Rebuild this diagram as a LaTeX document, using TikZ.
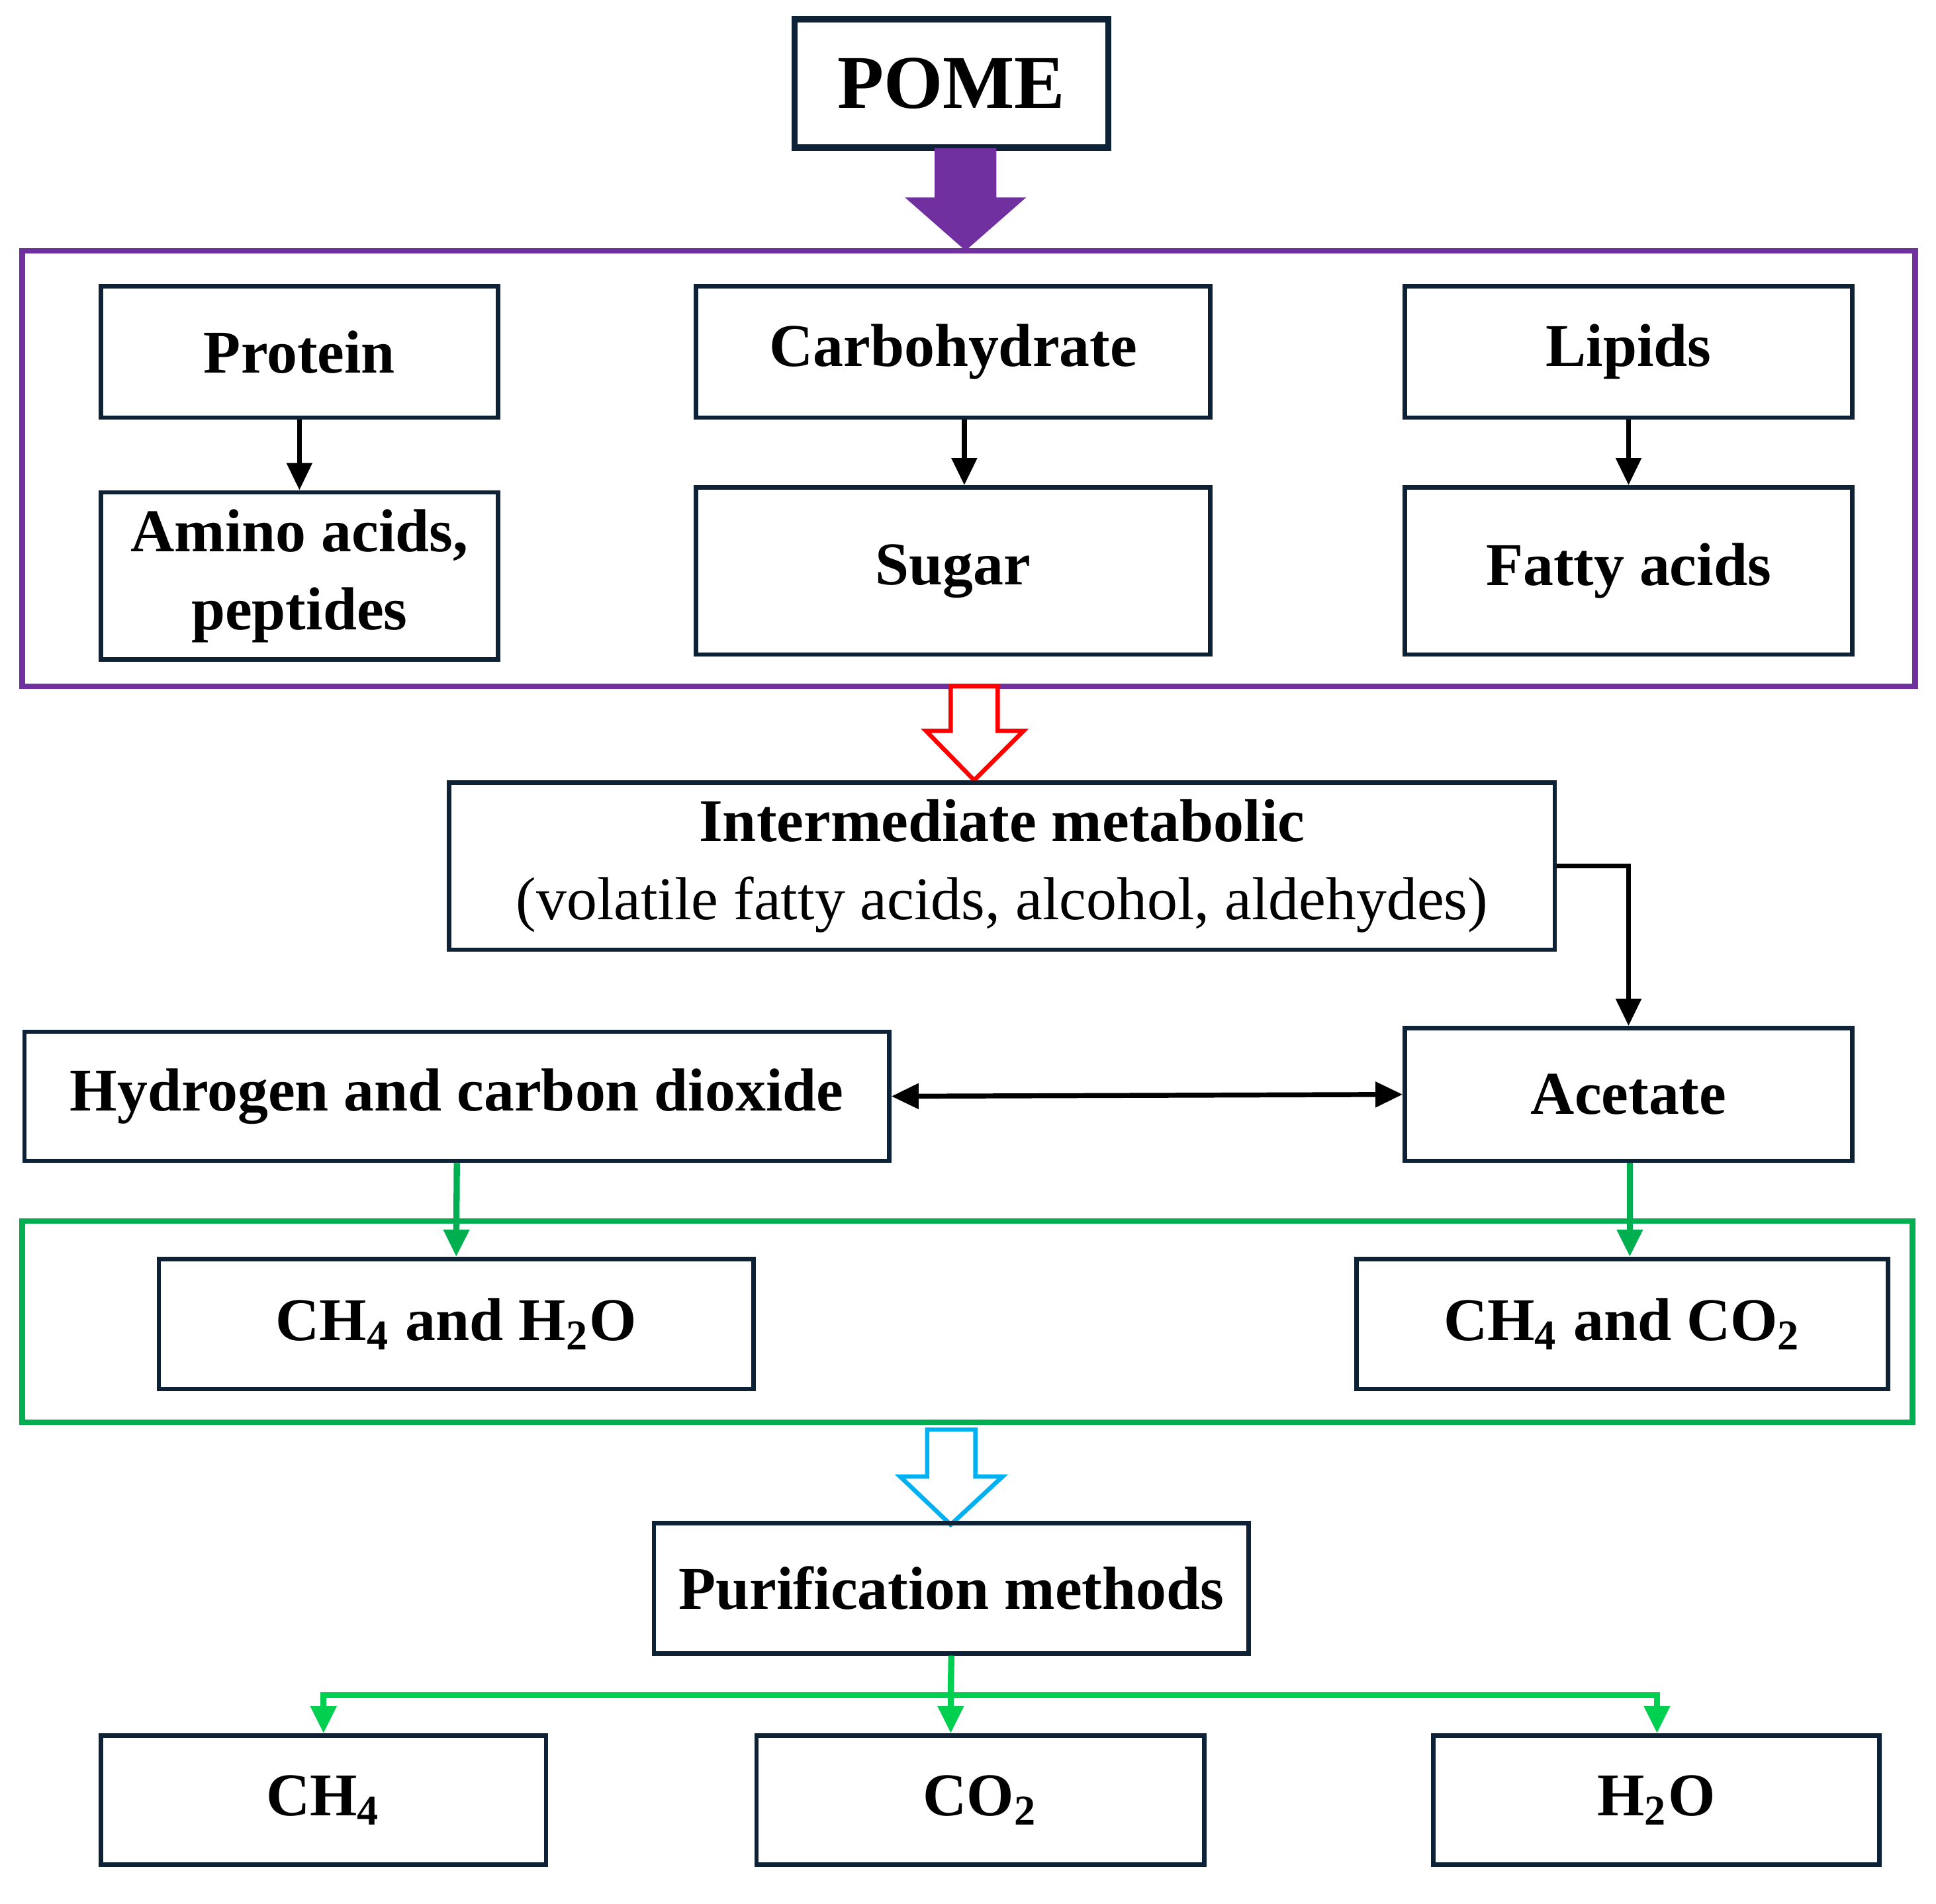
\documentclass[tikz,border=0pt]{standalone}
\usepackage{fontspec}
\setmainfont{Liberation Serif}
\usetikzlibrary{arrows.meta}
\definecolor{bx}{HTML}{0D2236}
\definecolor{pur}{HTML}{7030A0}
\definecolor{grn}{HTML}{00B050}
\definecolor{lgrn}{HTML}{00D050}
\definecolor{blu}{HTML}{00B0F0}
\begin{document}
\begin{tikzpicture}[x=0.1mm,y=-0.1mm,
 box/.style={draw=bx,line width=0.35mm,inner sep=0pt,font=\fontsize{14}{18}\selectfont\bfseries,align=center},
 arr/.style={line width=0.4mm,-{Triangle[length=2.2mm,width=2mm]}},
 frame/.style={line width=0.45mm}]
\useasboundingbox (0,0) rectangle (1568,1542);
\newcommand{\bx}[6]{\node[box,minimum width=#4*0.1mm-0.35mm,minimum height=#5*0.1mm-0.35mm] (#1) at (#2,#3) {#6};}
% POME
\node[box,line width=0.5mm,minimum width=25.4mm,minimum height=10.4mm] (pome) at (770.5,67.5) {\fontsize{17.5}{20}\selectfont POME};
\fill[pur] (757,120) -- (807,120) -- (807,160) -- (831,160) -- (782,203) -- (733,160) -- (757,160) -- cycle;
% purple frame
\draw[pur,frame] (18,203) rectangle (1551,556);
\bx{prot}{242.5}{285}{325}{110}{Protein}
\bx{amino}{242.5}{466.5}{325}{139}{Amino acids,\\ peptides}
\bx{carb}{772}{285}{420}{110}{Carbohydrate}
\bx{sugar}{772}{462.5}{420}{139}{Sugar}
\bx{lip}{1319}{285}{366}{110}{Lipids}
\bx{fat}{1319}{462.5}{366}{139}{Fatty acids}
\draw[arr] (prot.south) -- (amino.north);
\draw[arr] ([xshift=0.9mm]carb.south) -- ([xshift=0.9mm]sugar.north);
\draw[arr] (lip.south) -- (fat.north);
% red hollow arrow
\draw[red,line width=0.35mm,fill=white] (770,556) -- (808,556) -- (808,592) -- (829,592) -- (789,632) -- (750,592) -- (770,592) -- cycle;
\bx{inter}{811.5}{701.5}{899}{139}{Intermediate metabolic\\ \mdseries (volatile fatty acids, alcohol, aldehydes)}
\bx{hyd}{370}{888}{704}{108}{Hydrogen and carbon dioxide}
\bx{acet}{1319}{886.5}{366}{111}{Acetate}
\draw[arr] (inter.east) -| (acet.north);
\draw[line width=0.4mm,{Triangle[length=2.2mm,width=2mm]}-{Triangle[length=2.2mm,width=2mm]}] (hyd.east) -- (acet.west);
% green frame
\draw[grn,frame] (18,989) rectangle (1549,1152);
\bx{ch4h2o}{369.5}{1072.5}{485}{109}{CH\textsubscript{4} and H\textsubscript{2}O}
\bx{ch4co2}{1314}{1072.5}{434}{109}{CH\textsubscript{4} and CO\textsubscript{2}}
\draw[arr,grn,line width=0.5mm] (hyd.south) -- (ch4h2o.north);
\draw[arr,grn,line width=0.5mm] (1320,942) -- (1320,1018);
% blue hollow arrow
\draw[blu,line width=0.35mm,fill=white] (751,1158) -- (790,1158) -- (790,1196) -- (812,1196) -- (770,1235) -- (729,1196) -- (751,1196) -- cycle;
\bx{pur}{770.5}{1286.5}{485}{109}{Purification methods}
\bx{c1}{262}{1458}{364}{108}{CH\textsubscript{4}}
\bx{c2}{794}{1458}{366}{108}{CO\textsubscript{2}}
\bx{c3}{1341.5}{1458}{365}{108}{H\textsubscript{2}O}
\coordinate (j) at (770,1373);
\draw[lgrn,line width=0.5mm] (pur.south) -- (j);
\draw[arr,lgrn,line width=0.5mm] (j) -| (262,1404);
\draw[arr,lgrn,line width=0.5mm] (j) -- (770,1404);
\draw[arr,lgrn,line width=0.5mm] (j) -| (1342,1404);
\end{tikzpicture}
\end{document}
